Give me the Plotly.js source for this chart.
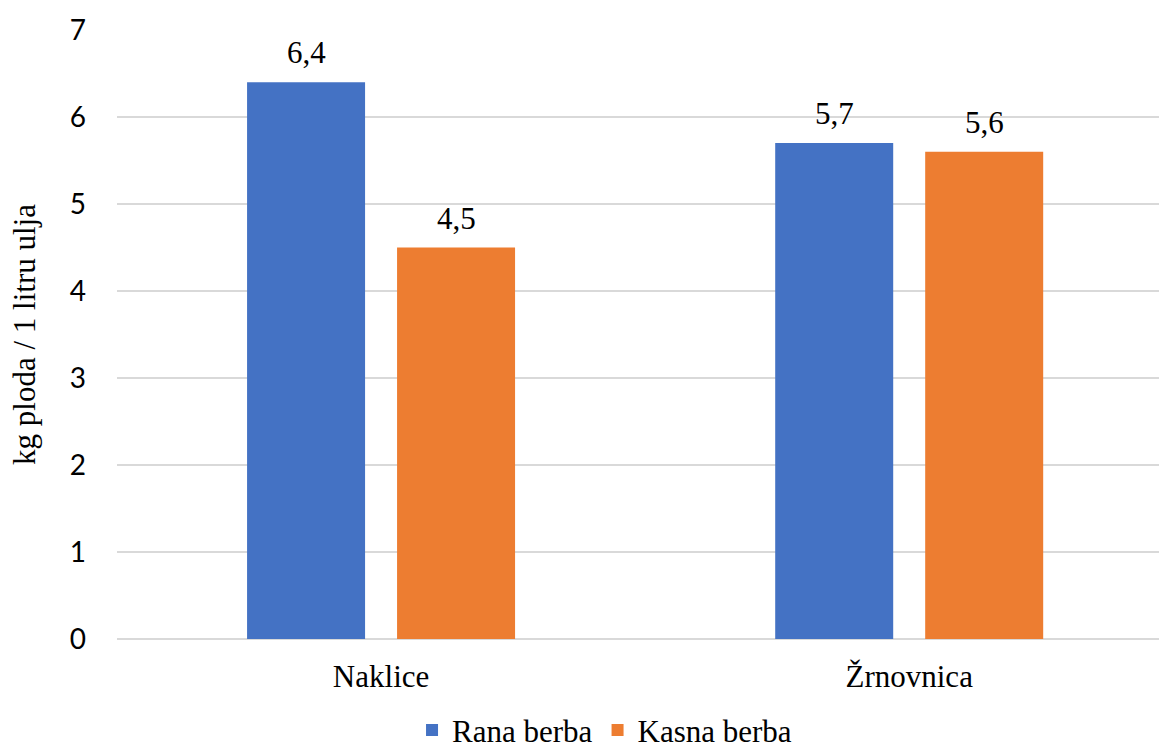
<!DOCTYPE html>
<html>
<head>
<meta charset="utf-8">
<script src="https://cdn.plot.ly/plotly-3.0.1.min.js"></script>
<style>html,body{margin:0;padding:0;background:#fff;}#chart{width:1159px;height:749px;}</style>
</head>
<body>
<div id="chart"></div>
<script>
const categories = ["Naklice", "Žrnovnica"];
const seriesNames = ["Rana berba", "Kasna berba"];
const ranaBerba = [6.4, 5.7];
const kasnaBerba = [4.5, 5.6];
const yTicks = [0, 1, 2, 3, 4, 5, 6, 7];
const yTitle = "kg ploda / 1 litru ulja";

const serif = "Liberation Serif, Times New Roman, serif";
const labelFont = {family: serif, size: 31, color: "#000"};

function barTrace(name, values, color) {
  return {
    type: "bar", name: name, x: categories, y: values,
    marker: {color: color}, hoverinfo: "skip"
  };
}

const data = [
  barTrace(seriesNames[0], ranaBerba, "#4472C4"),
  barTrace(seriesNames[1], kasnaBerba, "#ED7D31")
];

const fmt = v => v.toFixed(1).replace(".", ",");
const annotations = [];
[ranaBerba, kasnaBerba].forEach((vals, si) => {
  vals.forEach((v, ci) => {
    annotations.push({
      x: categories[ci], y: v, xref: "x", yref: "y",
      text: fmt(v), showarrow: false, font: labelFont,
      xanchor: "center", yanchor: "bottom",
      xshift: si === 0 ? -75 : 75, yshift: 10
    });
  });
});

const layout = {
  width: 1159, height: 749,
  margin: {l: 117, r: 0, t: 29.5, b: 110},
  paper_bgcolor: "#fff", plot_bgcolor: "#fff",
  font: {family: serif},
  separators: ",.",
  barmode: "group", bargap: 0.432, bargroupgap: 0.2133,
  showlegend: true,
  legend: {orientation: "h", xref: "container", yref: "container",
           x: 0.5216, xanchor: "center", y: 0.025, yanchor: "middle",
           font: labelFont, itemwidth: 30, tracegroupgap: 0},
  xaxis: {type: "category", range: [-0.5, 1.473], showgrid: false, zeroline: false,
          showline: false, ticks: "", tickfont: labelFont, ticklabelstandoff: 16,
          automargin: false, fixedrange: true},
  yaxis: {range: [0, 7], tickvals: yTicks, showgrid: true, gridcolor: "#d9d9d9", gridwidth: 1.5,
          zeroline: true, zerolinecolor: "#d9d9d9", zerolinewidth: 1.5, showline: false, ticks: "",
          tickfont: {family: "Lato", size: 28, color: "#000"},
          ticklabelstandoff: 30,
          title: {text: yTitle, font: labelFont, standoff: 24}, automargin: false, fixedrange: true},
  annotations: annotations
};

Plotly.newPlot("chart", data, layout, {displayModeBar: false, staticPlot: true});
</script>
</body>
</html>
